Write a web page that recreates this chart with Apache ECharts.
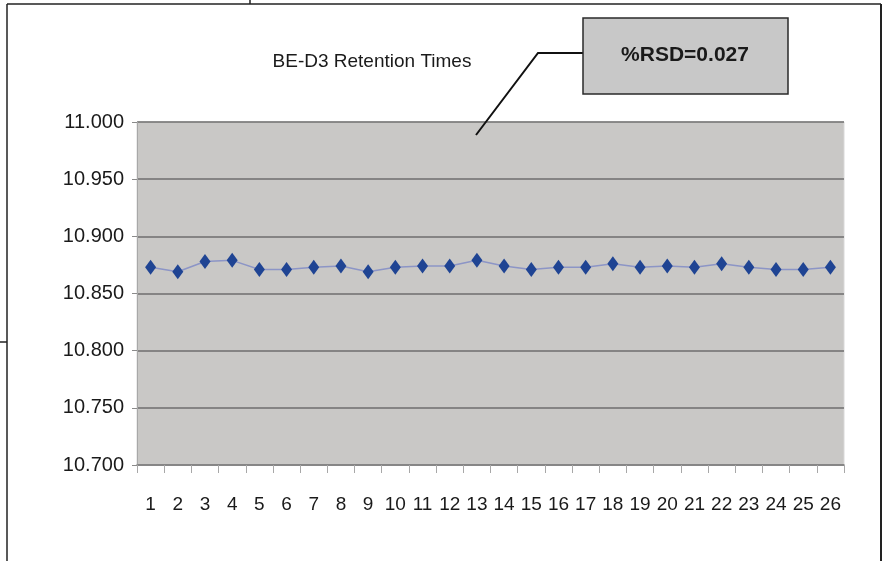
<!DOCTYPE html>
<html>
<head>
<meta charset="utf-8">
<title>BE-D3 Retention Times</title>
<script src="https://cdn.jsdelivr.net/npm/echarts@6/dist/echarts.min.js"></script>
<style>
  html, body { margin: 0; padding: 0; background: #ffffff; }
  #chart { width: 887px; height: 561px; }
</style>
</head>
<body>
<div id="chart"></div>
<script>
// Injection number (1..26) and measured retention time (min)
const injections = ['1','2','3','4','5','6','7','8','9','10','11','12','13',
                    '14','15','16','17','18','19','20','21','22','23','24','25','26'];
const retentionTimes = [10.873, 10.869, 10.878, 10.879, 10.871, 10.871, 10.873, 10.874, 10.869,
                        10.873, 10.874, 10.874, 10.879, 10.874, 10.871, 10.873, 10.873, 10.876,
                        10.873, 10.874, 10.873, 10.876, 10.873, 10.871, 10.871, 10.873];
const yTicks = { min: 10.7, max: 11.0, step: 0.05 };
const chartTitle = 'BE-D3 Retention Times';
const rsdNote = '%RSD=0.027';

const FONT = '"Liberation Sans", Arial, sans-serif';

const chart = echarts.init(document.getElementById('chart'), null, { renderer: 'canvas' });

chart.setOption({
  backgroundColor: '#ffffff',
  animation: false,
  title: {
    text: chartTitle,
    left: 367,
    top: 47,
    textAlign: 'center',
    textStyle: { fontFamily: FONT, fontSize: 19, fontWeight: 'normal', color: '#1a1a1a' }
  },
  grid: {
    left: 137, top: 122, right: 43, bottom: 96,
    show: true,
    backgroundColor: '#c9c8c6',
    borderColor: '#d9d9d9',
    borderWidth: 1
  },
  xAxis: {
    type: 'category',
    data: injections,
    boundaryGap: true,
    axisLine: { lineStyle: { color: '#858585', width: 1.5 } },
    axisTick: { show: true, length: 8, lineStyle: { color: '#a8a8a8', width: 1 } },
    axisLabel: { margin: 30, fontFamily: FONT, fontSize: 19, color: '#1a1a1a', interval: 0 },
    splitLine: { show: false }
  },
  yAxis: {
    type: 'value',
    min: yTicks.min,
    max: yTicks.max,
    interval: yTicks.step,
    axisLine: { show: true, lineStyle: { color: '#a8a8a8', width: 1 } },
    axisTick: { show: true, length: 5, lineStyle: { color: '#8a8a8a', width: 1 } },
    axisLabel: {
      margin: 13,
      fontFamily: FONT, fontSize: 20, color: '#1a1a1a',
      formatter: v => v.toFixed(3)
    },
    splitLine: { show: true, lineStyle: { color: '#6e6e6e', width: 1.5 } }
  },
  series: [{
    type: 'line',
    data: retentionTimes,
    symbol: 'diamond',
    symbolSize: [11, 15],
    itemStyle: { color: '#1f4493' },
    lineStyle: { color: '#8c95c6', width: 1.5 },
    z: 5
  }],
  graphic: [
    // frame around the figure
    { type: 'line', shape: { x1: 7, y1: 4, x2: 881, y2: 4 }, style: { stroke: '#222', lineWidth: 1.5 } },
    { type: 'line', shape: { x1: 7, y1: 4, x2: 7, y2: 561 }, style: { stroke: '#222', lineWidth: 1.5 } },
    { type: 'line', shape: { x1: 881, y1: 4, x2: 881, y2: 561 }, style: { stroke: '#222', lineWidth: 2 } },
    { type: 'line', shape: { x1: 250, y1: 0, x2: 250, y2: 4 }, style: { stroke: '#222', lineWidth: 1.5 } },
    { type: 'line', shape: { x1: 0, y1: 342, x2: 7, y2: 342 }, style: { stroke: '#222', lineWidth: 1.5 } },
    // callout leader
    { type: 'polyline', shape: { points: [[583, 53], [538, 53], [476, 135]] },
      style: { stroke: '#111', lineWidth: 2, fill: null }, z: 10 },
    // callout box
    { type: 'rect', shape: { x: 583, y: 18, width: 205, height: 76 },
      style: { fill: '#c8c8c8', stroke: '#2a2a2a', lineWidth: 1.5 }, z: 10 },
    { type: 'text', x: 685, y: 55, z: 11,
      style: { text: rsdNote, fontFamily: FONT, fontSize: 21, fontWeight: 'bold',
               fill: '#1a1a1a', align: 'center', verticalAlign: 'middle' } }
  ]
});
</script>
</body>
</html>
